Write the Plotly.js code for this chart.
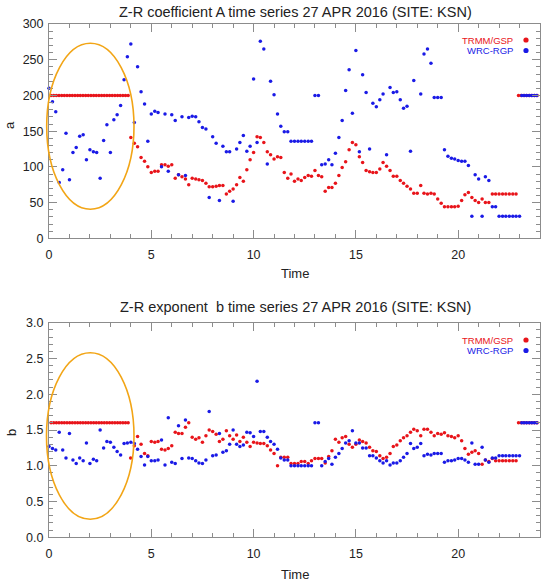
<!DOCTYPE html>
<html>
<head>
<meta charset="utf-8">
<script src="https://cdn.plot.ly/plotly-3.0.1.min.js"></script>
<style>html,body{margin:0;padding:0;background:#fff;}#chart{width:552px;height:587px;}</style>
</head>
<body>
<div id="chart"></div>
<script>
// ---------- DATA ----------
const seriesNames = ["TRMM/GSP", "WRC-RGP"];
const xTickVals = [0, 5, 10, 15, 20];

// coefficient A, TRMM/GSP
const tA_trmm = [0.10,0.23,0.36,0.49,0.62,0.75,0.88,1.01,1.14,1.27,1.40,1.53,1.66,1.79,1.92,2.05,2.18,2.31,2.44,2.57,2.70,2.83,2.96,3.09,3.22,3.35,3.48,3.61,3.74,3.87,
 4.00,4.17,4.33,4.50,4.67,4.83,5.00,5.17,5.33,5.50,5.67,5.83,6.00,6.17,6.33,6.50,6.67,6.83,7.00,7.17,7.33,7.50,7.67,7.83,8.00,8.17,8.33,8.50,8.67,8.83,9.00,9.17,9.33,9.50,9.67,9.83,
 10.00,10.17,10.33,10.50,10.67,10.83,11.00,11.17,11.33,11.50,11.67,11.83,12.00,12.17,12.33,12.50,12.67,12.83,13.00,13.17,13.33,13.50,13.67,13.83,14.00,14.17,14.33,14.50,14.67,14.83,
 15.00,15.17,15.33,15.50,15.67,15.83,16.00,16.17,16.33,16.50,16.67,16.83,17.00,17.17,17.33,17.50,17.67,17.83,18.00,18.17,18.33,18.50,18.67,18.83,19.00,19.17,19.33,19.50,19.67,19.83,
 20.00,20.17,20.33,20.50,20.67,20.83,21.00,21.17,21.33,21.50,21.67,21.83,22.00,22.17,22.33,22.50,22.67,22.83,22.95,23.08,23.21,23.34,23.47,23.60,23.73,23.86];
const a_trmm = [200,200,200,200,200,200,200,200,200,200,200,200,200,200,200,200,200,200,200,200,200,200,200,200,200,200,200,200,200,200,
 141,133,128,113,108,100,92,94,94,103,103,101,103,84,89,86,83,75,84,83,82,81,77,72,72,73,74,74,62,66,69,75,85,80,96,110,
 120,142,141,134,121,117,111,114,113,92,84,90,80,83,81,85,88,87,95,88,86,66,71,71,77,88,99,107,124,134,
 131,114,106,95,93,92,92,97,106,101,95,87,87,81,77,73,69,63,63,74,63,62,63,62,55,49,44,44,44,44,
 45,53,61,64,57,53,50,55,50,50,62,62,62,62,62,62,62,62,200,200,200,200,200,200,200,200];

// coefficient A, WRC-RGP
const tA_wrc = [0.00,0.17,0.33,0.50,0.67,0.83,1.00,1.17,1.33,1.50,1.67,1.83,2.00,2.17,2.33,2.50,2.67,2.83,3.00,3.17,3.33,3.50,3.67,3.83,
 4.00,4.17,4.33,4.50,4.67,4.83,5.00,5.17,5.33,5.50,5.67,5.83,6.00,6.17,6.33,6.50,6.67,6.83,7.00,7.17,7.33,7.50,7.67,7.83,8.00,8.17,8.33,8.50,8.67,8.83,9.00,9.17,9.33,9.50,9.67,9.83,
 10.00,10.17,10.33,10.50,10.67,10.83,11.00,11.17,11.33,11.50,11.67,11.83,12.00,12.17,12.33,12.50,12.67,12.83,13.00,13.17,13.33,13.50,13.67,13.83,14.00,14.17,14.33,14.50,14.67,14.83,
 15.00,15.17,15.33,15.50,15.67,15.83,16.00,16.17,16.33,16.50,16.67,16.83,17.00,17.17,17.33,17.50,17.67,17.83,18.17,18.33,18.50,18.67,18.83,19.00,19.17,19.33,19.50,19.67,19.83,
 20.00,20.17,20.33,20.50,20.67,20.83,21.00,21.17,21.33,21.50,21.67,21.83,22.00,22.17,22.33,22.50,22.67,22.83,23.00,23.11,23.23,23.35,23.48,23.60,23.72,23.84];
const a_wrc = [210,191,177,78,96,147,82,120,127,143,145,110,124,121,120,84,137,159,120,166,173,186,222,254,
 272,162,240,205,188,136,174,178,176,100,174,94,173,165,89,170,88,169,171,170,163,155,153,57,142,133,53,129,121,121,52,125,134,144,122,129,
 223,134,276,265,104,220,201,174,157,149,149,136,136,136,136,136,136,136,200,200,103,104,110,103,119,141,165,207,236,175,
 263,121,229,204,125,189,184,194,202,117,211,204,205,194,182,185,122,221,202,258,265,245,197,197,197,124,115,112,111,
 109,108,108,102,31,89,83,31,86,81,44,44,31,31,31,31,31,31,31,200,200,200,200,200,200,200];

// exponent b, TRMM/GSP
const tB_trmm = [0.10,0.23,0.36,0.49,0.62,0.75,0.88,1.01,1.14,1.27,1.40,1.53,1.66,1.79,1.92,2.05,2.18,2.31,2.44,2.57,2.70,2.83,2.96,3.09,3.22,3.35,3.48,3.61,3.74,3.87,
 3.99,4.17,4.33,4.50,4.67,4.83,5.00,5.17,5.33,5.50,5.67,5.83,6.00,6.17,6.33,6.50,6.67,6.83,7.00,7.17,7.33,7.50,7.67,7.83,8.00,8.17,8.33,8.50,8.67,8.83,9.00,9.17,9.33,9.50,9.67,9.83,
 10.00,10.17,10.33,10.50,10.67,10.83,11.00,11.17,11.33,11.50,11.67,11.83,12.00,12.17,12.33,12.50,12.67,12.83,13.00,13.17,13.33,13.50,13.67,13.83,14.00,14.17,14.33,14.50,14.67,14.83,
 15.00,15.17,15.33,15.50,15.67,15.83,16.00,16.17,16.33,16.50,16.67,16.83,17.00,17.17,17.33,17.50,17.67,17.83,18.00,18.17,18.33,18.50,18.67,18.83,19.00,19.17,19.33,19.50,19.67,19.83,
 20.00,20.17,20.33,20.50,20.67,20.83,21.00,21.17,21.33,21.50,21.67,21.83,22.00,22.17,22.33,22.50,22.67,22.83,22.95,23.08,23.21,23.34,23.47,23.60,23.73,23.86];
const b_trmm = [1.60,1.60,1.60,1.60,1.60,1.60,1.60,1.60,1.60,1.60,1.60,1.60,1.60,1.60,1.60,1.60,1.60,1.60,1.60,1.60,1.60,1.60,1.60,1.60,1.60,1.60,1.60,1.60,1.60,1.60,
 1.11,1.28,1.41,1.30,1.17,1.14,1.34,1.33,1.34,1.23,1.22,1.24,1.28,1.47,1.45,1.45,1.54,1.60,1.40,1.37,1.39,1.33,1.42,1.50,1.48,1.44,1.34,1.37,1.49,1.42,1.37,1.43,1.34,1.40,1.33,1.27,
 1.33,1.32,1.31,1.31,1.28,1.22,1.17,1.00,1.12,1.12,1.12,1.03,1.03,1.03,1.06,1.06,1.03,1.07,1.10,1.10,1.10,1.04,1.13,1.21,1.37,1.33,1.39,1.41,1.30,1.26,
 1.30,1.36,1.34,1.32,1.26,1.21,1.20,1.14,1.10,1.12,1.17,1.27,1.29,1.35,1.39,1.42,1.47,1.51,1.49,1.42,1.51,1.51,1.47,1.42,1.45,1.44,1.46,1.42,1.41,1.39,
 1.42,1.35,1.24,1.16,1.19,1.21,1.17,1.02,1.08,1.06,1.10,1.07,1.07,1.07,1.07,1.07,1.07,1.07,1.60,1.60,1.60,1.60,1.60,1.60,1.60,1.60];

// exponent b, WRC-RGP
const tB_wrc = [0.00,0.17,0.33,0.50,0.67,0.83,1.00,1.17,1.33,1.50,1.67,1.83,2.00,2.17,2.33,2.50,2.67,2.83,3.00,3.17,3.33,3.50,3.67,3.83,
 4.00,4.17,4.33,4.50,4.67,4.83,5.00,5.17,5.33,5.50,5.67,5.83,6.00,6.17,6.33,6.50,6.67,6.83,7.00,7.17,7.33,7.50,7.67,7.83,8.00,8.17,8.33,8.50,8.67,8.83,9.00,9.17,9.33,9.50,9.67,9.83,
 10.00,10.17,10.33,10.50,10.67,10.83,11.00,11.17,11.33,11.50,11.67,11.83,12.00,12.17,12.33,12.50,12.67,12.83,13.00,13.17,13.33,13.50,13.67,13.83,14.00,14.17,14.33,14.50,14.67,14.83,
 15.00,15.17,15.33,15.50,15.67,15.83,16.00,16.17,16.33,16.50,16.67,16.83,17.00,17.17,17.33,17.50,17.67,17.83,18.00,18.17,18.33,18.50,18.67,18.83,19.00,19.17,19.33,19.50,19.67,19.83,
 20.00,20.17,20.33,20.50,20.67,20.83,21.00,21.17,21.33,21.50,21.67,21.83,22.00,22.17,22.33,22.50,22.67,22.83,23.00,23.11,23.23,23.35,23.48,23.60,23.72,23.84];
const b_wrc = [1.27,1.24,1.22,1.47,1.22,1.11,1.45,1.08,1.03,1.11,1.07,1.32,1.03,1.09,1.07,1.50,1.25,1.34,1.33,1.26,1.20,1.15,1.31,1.32,
 1.33,1.31,1.23,1.13,1.01,1.13,1.07,1.07,1.08,1.36,1.01,1.67,1.05,1.03,1.56,1.10,1.64,1.11,1.10,1.07,1.04,1.03,1.08,1.76,1.14,1.15,1.45,1.19,1.21,1.30,1.50,1.30,1.27,1.29,1.47,1.46,
 1.41,2.18,1.48,1.48,1.40,1.34,1.30,1.23,1.11,1.08,1.08,1.00,1.00,1.00,1.00,1.00,1.00,1.00,1.60,1.60,1.00,1.06,1.10,1.02,1.12,1.17,1.24,1.32,1.35,1.49,
 1.32,1.32,1.25,1.25,1.14,1.14,1.11,1.07,1.04,1.07,1.01,1.04,1.04,1.07,1.12,1.17,1.31,1.24,1.26,1.31,1.14,1.16,1.15,1.17,1.17,1.17,1.05,1.07,1.07,1.08,
 1.10,1.10,1.08,1.05,1.32,1.02,1.02,1.26,1.08,1.05,1.11,1.11,1.14,1.14,1.14,1.14,1.14,1.14,1.14,1.60,1.60,1.60,1.60,1.60,1.60,1.60];

// ---------- STYLE ----------
const RED = '#e8141a', BLUE = '#1a1ae6', ORANGE = '#f2a516';
const FONT = 'Liberation Sans, Arial, Helvetica, sans-serif';
const AX = '#8c8c8c';
const W = 552, H = 587;
const px = v => v / W, py = v => 1 - v / H;

function mk(x, y, color, xa, ya, name) {
  return {type: 'scatter', mode: 'markers', x: x, y: y, xaxis: xa, yaxis: ya, name: name,
    marker: {color: color, size: 3.5, line: {width: 0}}, showlegend: false, cliponaxis: false};
}
const traces = [
  mk(tA_trmm, a_trmm, RED, 'x', 'y', seriesNames[0]),
  mk(tA_wrc, a_wrc, BLUE, 'x', 'y', seriesNames[1]),
  mk(tB_trmm, b_trmm, RED, 'x2', 'y2', seriesNames[0]),
  mk(tB_wrc, b_wrc, BLUE, 'x2', 'y2', seriesNames[1])
];

function xax(anchor) {
  return {domain: [px(49), px(540)], anchor: anchor, range: [0, 24], tickvals: xTickVals,
    ticks: 'inside', ticklen: 8, tickwidth: 1, tickcolor: AX,
    minor: {dtick: 1, ticks: 'inside', ticklen: 4, tickcolor: AX, tickwidth: 1},
    showline: true, linecolor: AX, linewidth: 1, mirror: 'ticks',
    showgrid: false, zeroline: false, ticklabelstandoff: 5,
    tickfont: {family: FONT, size: 12.5, color: '#222'}};
}
function yax(anchor, dom, rng, dt, mdt, fmt) {
  return {domain: dom, anchor: anchor, range: rng, dtick: dt, tick0: 0, tickformat: fmt,
    ticks: 'inside', ticklen: 8, tickwidth: 1, tickcolor: AX,
    minor: {dtick: mdt, ticks: 'inside', ticklen: 4, tickcolor: AX, tickwidth: 1},
    showline: true, linecolor: AX, linewidth: 1, mirror: 'ticks',
    showgrid: false, zeroline: false, ticklabelstandoff: 2,
    tickfont: {family: FONT, size: 12.5, color: '#222'}};
}

const ann = (text, x, y, opts) => Object.assign({text: text, x: x, y: y, xref: 'paper', yref: 'paper',
  showarrow: false, font: {family: FONT, size: 14.5, color: '#222'}, xanchor: 'center', yanchor: 'middle'}, opts || {});
const legFont = c => ({family: FONT, size: 9.5, color: c});

const annotations = [
  ann('Z-R coefficient A time series 27 APR 2016 (SITE: KSN)', px(295), py(12)),
  ann('Z-R exponent &nbsp;b time series 27 APR 2016 (SITE: KSN)', px(295), py(307)),
  ann('a', px(9), py(125), {textangle: -90, font: {family: FONT, size: 13, color: '#222'}}),
  ann('b', px(11), py(432), {textangle: -90, font: {family: FONT, size: 13, color: '#222'}}),
  ann('Time', px(295), py(274), {font: {family: FONT, size: 13, color: '#222'}}),
  ann('Time', px(295), py(574), {font: {family: FONT, size: 13, color: '#222'}}),
  ann(seriesNames[0], px(515), py(40), {xanchor: 'right', font: legFont(RED)}),
  ann(seriesNames[1], px(515), py(50.5), {xanchor: 'right', font: legFont(BLUE)}),
  ann(seriesNames[0], px(515), py(340), {xanchor: 'right', font: legFont(RED)}),
  ann(seriesNames[1], px(515), py(350.5), {xanchor: 'right', font: legFont(BLUE)})
];

const dot = (cx, cy, c) => ({type: 'circle', xref: 'paper', yref: 'paper',
  x0: px(cx - 2.6), x1: px(cx + 2.6), y0: py(cy + 2.6), y1: py(cy - 2.6),
  fillcolor: c, line: {width: 0}});
const ell = (x0, x1, ytop, ybot) => ({type: 'circle', xref: 'paper', yref: 'paper',
  x0: px(x0), x1: px(x1), y0: py(ybot), y1: py(ytop), line: {color: ORANGE, width: 1.6}, fillcolor: 'rgba(0,0,0,0)'});

const shapes = [
  dot(526, 40, RED), dot(526, 50.5, BLUE), dot(526, 340, RED), dot(526, 350.5, BLUE),
  ell(46.7, 134, 43.3, 209.3), ell(46.5, 134, 352.7, 519.3)
];

const layout = {
  width: W, height: H, margin: {l: 0, r: 0, t: 0, b: 0},
  paper_bgcolor: '#fff', plot_bgcolor: '#fff', showlegend: false,
  font: {family: FONT},
  xaxis: xax('y'),
  yaxis: yax('x', [py(238.3), py(24)], [0, 300], 50, 10, 'd'),
  xaxis2: xax('y2'),
  yaxis2: yax('x2', [py(537.3), py(322.7)], [0, 3], 0.5, 0.1, '.1f'),
  annotations: annotations, shapes: shapes
};

Plotly.newPlot('chart', traces, layout, {staticPlot: true, displayModeBar: false});
</script>
</body>
</html>
